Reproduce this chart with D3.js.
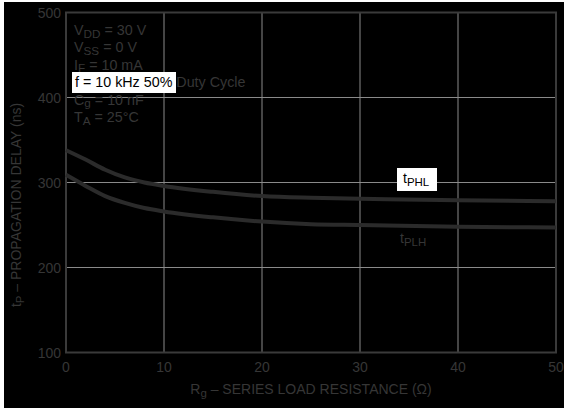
<!DOCTYPE html>
<html>
<head>
<meta charset="utf-8">
<script src="https://cdn.jsdelivr.net/npm/d3@7"></script>
<style>
  body { margin: 0; background: #fff; }
  svg { display: block; font-family: "Liberation Sans", Arial, sans-serif; }
</style>
</head>
<body>
<svg id="chart"></svg>
<script>
// chart values
var xTicks = [0, 10, 20, 30, 40, 50];
var yTicks = [100, 200, 300, 400, 500];
var rgValues   = [0, 2, 4, 6, 8, 10, 15, 20, 25, 30, 40, 50];
var tphlValues = [338, 327, 315, 306, 300, 296, 289, 284, 282, 281, 279, 278];
var tplhValues = [309, 296, 284, 276, 270, 266, 259, 254, 251, 250, 248, 247];
var conditions = ["V|DD| = 30 V", "V|SS| = 0 V", "I|F| = 10 mA", "f = 10 kHz 50% Duty Cycle", "C|g| = 10 nF", "T|A| = 25°C"];

var TEXT_COLOR = '#363636';
var GRID_COLOR = '#8a8a8a';
var FRAME_COLOR = '#3a3a3a';
var CURVE_COLOR = '#2b2b2b';

var W = 564, H = 408;
var svg = d3.select("#chart").attr("width", W).attr("height", H);

// black panel (thin white edge top/left as in source)
svg.append("rect").attr("x", 4).attr("y", 2).attr("width", W - 4).attr("height", H - 2).attr("fill", "#000");

var x = d3.scaleLinear().domain([0, 50]).range([66, 556]);
var y = d3.scaleLinear().domain([100, 500]).range([352.5, 12.5]);

// grid
svg.append("g").selectAll("line.vg")
  .data(xTicks.slice(1, -1))
  .enter().append("line")
    .attr("x1", function(d){return x(d);}).attr("x2", function(d){return x(d);})
    .attr("y1", y(500)).attr("y2", y(100))
    .attr("stroke", GRID_COLOR).attr("stroke-width", 1);
svg.append("g").selectAll("line.hg")
  .data(yTicks.slice(1, -1))
  .enter().append("line")
    .attr("x1", x(0)).attr("x2", x(50))
    .attr("y1", function(d){return y(d);}).attr("y2", function(d){return y(d);})
    .attr("stroke", GRID_COLOR).attr("stroke-width", 1);

// frame
svg.append("rect")
  .attr("x", x(0)).attr("y", y(500))
  .attr("width", x(50) - x(0)).attr("height", y(100) - y(500))
  .attr("fill", "none").attr("stroke", FRAME_COLOR).attr("stroke-width", 2);

// tick labels
svg.append("g").selectAll("text")
  .data(xTicks)
  .enter().append("text")
    .attr("x", function(d){return x(d);})
    .attr("y", y(100) + 19)
    .attr("text-anchor", "middle")
    .attr("font-size", 14)
    .attr("fill", TEXT_COLOR)
    .text(function(d){return d;});
svg.append("g").selectAll("text")
  .data(yTicks)
  .enter().append("text")
    .attr("x", x(0) - 5)
    .attr("y", function(d){return y(d) + 5;})
    .attr("text-anchor", "end")
    .attr("font-size", 14)
    .attr("fill", TEXT_COLOR)
    .text(function(d){return d;});

// curves
var line = d3.line()
  .x(function(d){return x(d[0]);})
  .y(function(d){return y(d[1]);})
  .curve(d3.curveMonotoneX);

[tphlValues, tplhValues].forEach(function(vals) {
  svg.append("path")
    .datum(rgValues.map(function(r, i){return [r, vals[i]];}))
    .attr("d", line)
    .attr("fill", "none")
    .attr("stroke", CURVE_COLOR)
    .attr("stroke-width", 4);
});

// text with a subscript part marked by |..|
function subText(sel, str, size) {
  var parts = str.split("|");
  parts.forEach(function(p, i) {
    if (!p) return;
    var ts = sel.append("tspan").text(p);
    if (i % 2 === 1) {
      ts.attr("font-size", size * 0.82).attr("dy", 2.5);
    } else if (i > 0) {
      ts.attr("dy", -2.5);
    }
  });
}

// test conditions
conditions.forEach(function(c, i) {
  var ty = 35 + i * 17.4;
  if (c.indexOf("f = ") === 0) {
    svg.append("rect").attr("x", 72).attr("y", 72).attr("width", 104).attr("height", 21).attr("fill", "#fff");
    var t = svg.append("text").attr("x", 75).attr("y", ty).attr("font-size", 14.3);
    t.append("tspan").attr("fill", "#000").text("f = 10 kHz 50%");
    t.append("tspan").attr("fill", TEXT_COLOR).text(" Duty Cycle");
  } else {
    var t2 = svg.append("text").attr("x", 74).attr("y", ty).attr("font-size", 14.3).attr("fill", TEXT_COLOR);
    subText(t2, c, 14.3);
  }
});

// curve labels
svg.append("rect").attr("x", 397).attr("y", 168).attr("width", 40).attr("height", 23).attr("fill", "#fff");
subText(svg.append("text").attr("x", 403).attr("y", 183).attr("font-size", 14).attr("fill", "#000"), "t|PHL|", 14);
subText(svg.append("text").attr("x", 400).attr("y", 243).attr("font-size", 14).attr("fill", TEXT_COLOR), "t|PLH|", 14);

// axis titles
var xt = svg.append("text")
  .attr("x", 311).attr("y", 394)
  .attr("text-anchor", "middle")
  .attr("font-size", 14)
  .attr("fill", TEXT_COLOR);
subText(xt, "R|g| – SERIES LOAD RESISTANCE (Ω)", 14);

var yt = svg.append("text")
  .attr("transform", "translate(21,205) rotate(-90)")
  .attr("text-anchor", "middle")
  .attr("font-size", 14)
  .attr("fill", TEXT_COLOR);
subText(yt, "t|P| – PROPAGATION DELAY (ns)", 14);
</script>
</body>
</html>
